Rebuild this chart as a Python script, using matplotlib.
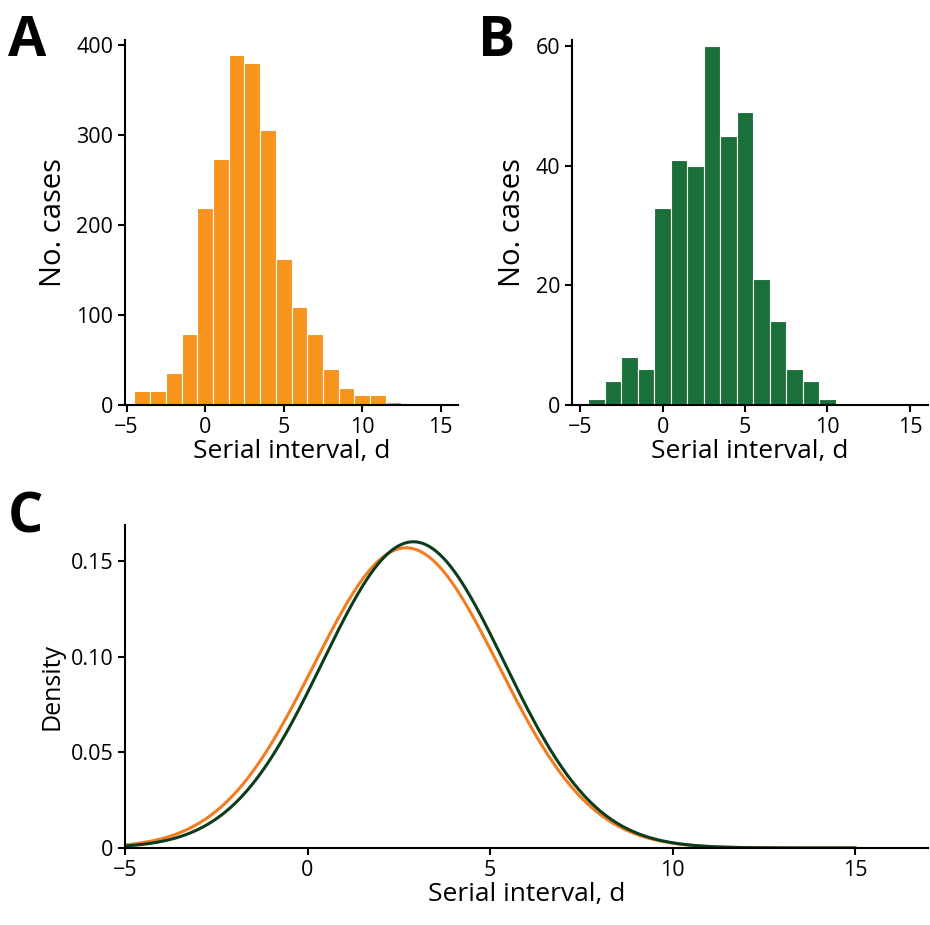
import numpy as np
import matplotlib
matplotlib.use('Agg')
import matplotlib.pyplot as plt

plt.rcParams['font.family'] = ['Open Sans', 'DejaVu Sans']

# panel A histogram (bins of width 1 starting at -4.5)
a_edges_start = -4.5
a_counts = [16, 15, 36, 79, 219, 273, 388, 380, 305, 162, 109, 79, 40, 19, 11, 11, 3, 1]
# panel B histogram
b_edges_start = -4.5
b_counts = [1, 4, 8, 6, 33, 41, 40, 60, 45, 49, 21, 14, 6, 4, 1]
# panel C fitted normal densities (mean, sd)
orange_fit = (2.7, 2.54)
green_fit = (2.9, 2.49)

orange = '#f7941d'
green = '#1a703a'
line_orange = '#f47c20'
line_green = '#0b3d1c'

fig = plt.figure(figsize=(9.3, 9.25), dpi=100)
W, H = 930, 925
def box(l, t, r, b):
    return [l / W, 1 - b / H, (r - l) / W, (b - t) / H]

axA = fig.add_axes(box(125, 40, 458, 405))
axB = fig.add_axes(box(572, 40, 928, 405))
axC = fig.add_axes(box(125, 525, 928, 848))

def hist(ax, start, counts, color):
    x = start + np.arange(len(counts))
    ax.bar(x, counts, width=1, align='edge', color=color, edgecolor='white', linewidth=0.8)

hist(axA, a_edges_start, a_counts, orange)
axA.set_xlim(-5.1, 16.1)
axA.set_ylim(0, 405)
axA.set_yticks([0, 100, 200, 300, 400])
hist(axB, b_edges_start, b_counts, green)
axB.set_xlim(-5.5, 16.1)
axB.set_ylim(0, 61)
axB.set_yticks([0, 20, 40, 60])

xs = np.linspace(-5, 15, 400)
for (m, s), c in [(orange_fit, line_orange), (green_fit, line_green)]:
    axC.plot(xs, np.exp(-0.5 * ((xs - m) / s) ** 2) / (s * np.sqrt(2 * np.pi)), color=c, lw=2.2)
axC.set_xlim(-5, 17)
axC.set_ylim(0, 0.169)
axC.set_yticks([0, 0.05, 0.10, 0.15])
axC.set_yticklabels(['0', '0.05', '0.10', '0.15'])

for ax in (axA, axB, axC):
    ax.spines['top'].set_visible(False)
    ax.spines['right'].set_visible(False)
    ax.spines['left'].set_linewidth(1.5)
    ax.spines['bottom'].set_linewidth(1.5)
    ax.set_xticks([-5, 0, 5, 10, 15])
    ax.set_xticklabels(['\u22125', '0', '5', '10', '15'])
    ax.tick_params(labelsize=15.5, width=1.5, length=5)
    ax.set_xlabel('Serial interval, d', fontsize=19, labelpad=1)

axA.set_ylabel('No. cases', fontsize=21, labelpad=6)
axB.set_ylabel('No. cases', fontsize=21, labelpad=6)
axC.set_ylabel('Density', fontsize=18)

fig.text(8 / W, 1 - 42 / H, 'A', fontsize=40, fontweight='bold', va='center')
fig.text(478 / W, 1 - 42 / H, 'B', fontsize=40, fontweight='bold', va='center')
fig.text(8 / W, 1 - 518 / H, 'C', fontsize=40, fontweight='bold', va='center')

fig.savefig('out.png', dpi=100)
